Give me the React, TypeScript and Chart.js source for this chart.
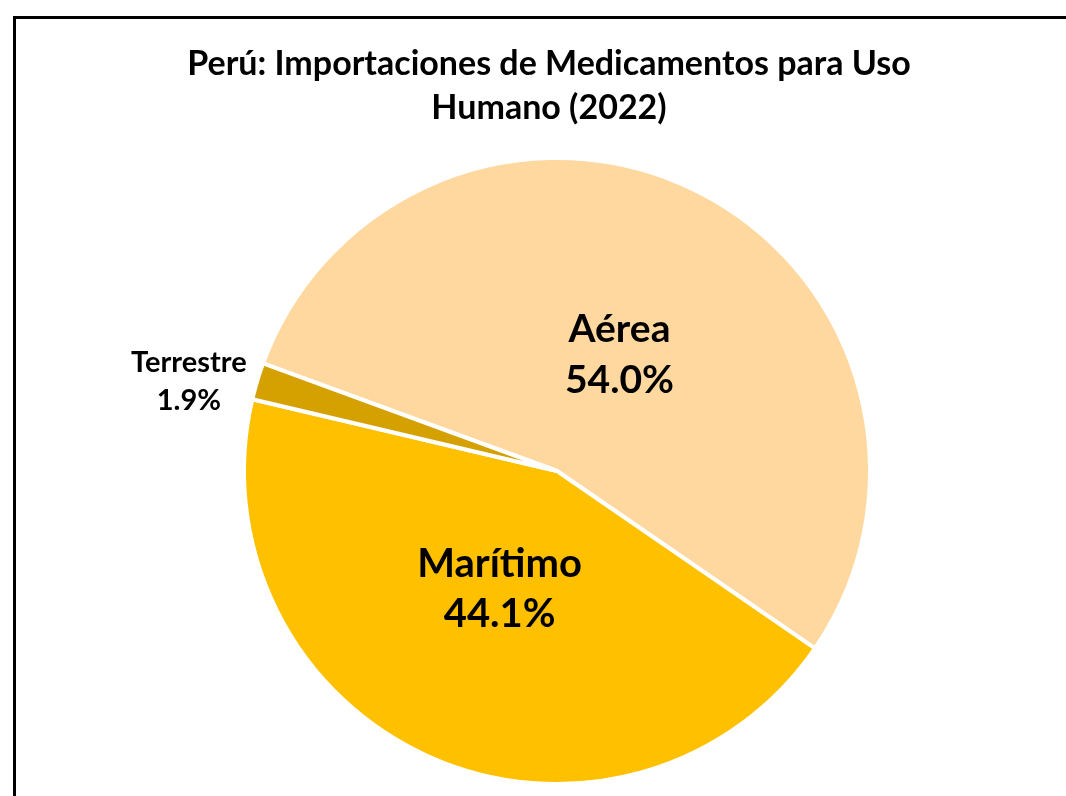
import React, { useEffect, useRef } from "react";
import { Chart, registerables } from "chart.js";

Chart.register(...registerables);

const TITLE_LINES = ["Perú: Importaciones de Medicamentos para Uso", "Humano (2022)"];
const CATEGORIES = ["Aérea", "Marítimo", "Terrestre"];
const SHARES = [54.0, 44.1, 1.9];
const COLORS = ["#FFD89F", "#FFC000", "#D5A100"];

const FONT = "Lato, 'Noto Sans', sans-serif";

const titlePlugin = {
  id: "customTitle",
  afterDraw(chart: any) {
    const ctx = chart.ctx;
    ctx.save();
    ctx.fillStyle = "#000";
    ctx.font = `bold 34px ${FONT}`;
    ctx.textAlign = "center";
    ctx.textBaseline = "alphabetic";
    const baselines = [75, 119];
    TITLE_LINES.forEach((line, i) => ctx.fillText(line, 549, baselines[i]));
    ctx.restore();
  },
};

const labelStyles = [
  { frac: 0.421, size: 39, gap: 51, da: 1 },
  { frac: 0.42, size: 40, gap: 50, da: 2 },
  { frac: 1.21, size: 29, gap: 38, da: -3.1 },
];

const labelPlugin = {
  id: "sliceLabels",
  afterDatasetsDraw(chart: any) {
    const ctx = chart.ctx;
    const meta = chart.getDatasetMeta(0);
    ctx.save();
    ctx.fillStyle = "#000";
    ctx.textAlign = "center";
    ctx.textBaseline = "middle";
    meta.data.forEach((arc: any, i: number) => {
      const st = labelStyles[i];
      const { x, y, startAngle, endAngle, outerRadius } = arc.getProps(
        ["x", "y", "startAngle", "endAngle", "outerRadius"],
        true
      );
      const mid = (startAngle + endAngle) / 2 + (st.da * Math.PI) / 180;
      const r = outerRadius * st.frac;
      const cx = x + Math.cos(mid) * r;
      const cy = y + Math.sin(mid) * r;
      ctx.font = `bold ${st.size}px ${FONT}`;
      ctx.fillText(CATEGORIES[i], cx, cy - st.gap / 2);
      ctx.fillText(SHARES[i].toFixed(1) + "%", cx, cy + st.gap / 2);
    });
    ctx.restore();
  },
};

export default function App() {
  const ref = useRef<HTMLCanvasElement | null>(null);

  useEffect(() => {
    if (!ref.current) return;
    const chart = new Chart(ref.current, {
      type: "pie",
      data: {
        labels: CATEGORIES,
        datasets: [
          {
            data: SHARES,
            backgroundColor: COLORS,
            borderColor: "#FFFFFF",
            borderWidth: 4,
          },
        ],
      },
      options: {
        responsive: false,
        animation: false,
        rotation: -69.9,
        layout: { padding: { top: 156, bottom: 10, left: 242, right: 194 } },
        plugins: {
          legend: { display: false },
          title: { display: false },
          tooltip: { enabled: false },
        },
      },
      plugins: [labelPlugin, titlePlugin],
    });
    return () => chart.destroy();
  }, []);

  return (
    <div
      style={{
        position: "fixed",
        left: 0,
        top: 0,
        width: 1066,
        height: 796,
        overflow: "hidden",
        background: "#fff",
      }}
    >
      <div
        style={{
          position: "absolute",
          left: 13,
          top: 16,
          width: 1200,
          height: 1000,
          border: "3px solid #000",
        }}
      />
      <canvas
        ref={ref}
        width={1066}
        height={796}
        style={{ position: "absolute", left: 0, top: 0, width: 1066, height: 796 }}
      />
    </div>
  );
}
